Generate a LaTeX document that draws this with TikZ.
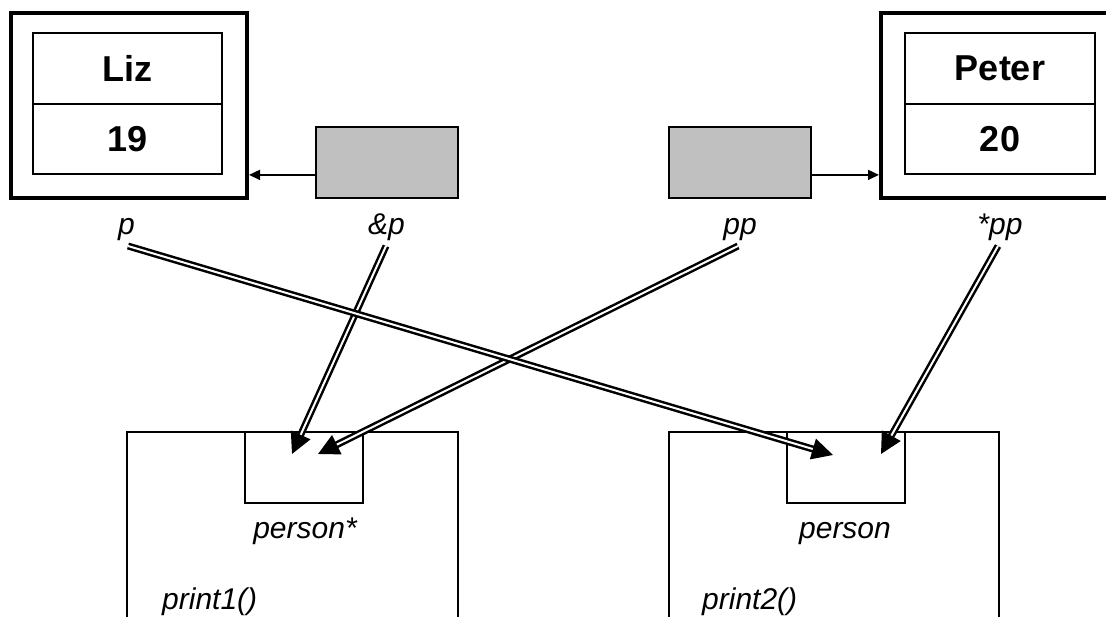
\documentclass[tikz,border=0pt]{standalone}
\usepackage{fontspec}
\setmainfont{Liberation Sans}
\usetikzlibrary{arrows.meta,calc}
\definecolor{cellgray}{HTML}{C0C0C0}
\tikzset{
  objframe/.style={draw, line width=4pt, rectangle, inner sep=0pt},
  cell/.style={draw, line width=1.5pt, rectangle, inner sep=0pt, font=\fontsize{36}{40}\selectfont\bfseries},
  ptrbox/.style={draw, line width=1.8pt, rectangle, inner sep=0pt, fill=cellgray, minimum width=142pt, minimum height=71pt},
  scopeframe/.style={draw, line width=1.5pt, rectangle, inner sep=0pt},
  slot/.style={draw, line width=1.5pt, rectangle, inner sep=0pt, minimum width=118pt, minimum height=71pt},
  lbl/.style={inner sep=0pt, anchor=base, font=\fontsize{30}{36}\selectfont\itshape},
  ptr/.style={line width=1.5pt, -{Triangle[length=11pt,width=10pt]}},
  binding/.style={double, line width=2.5pt, double distance=2pt, -{Triangle[length=21pt,width=21pt]}}
}
\begin{document}
\begin{tikzpicture}[x=1pt,y=-1pt]
\useasboundingbox (0,0) rectangle (1106,616);
\fill[white] (0,0) rectangle (1106,616);

% objects
\node[objframe, minimum width=236pt, minimum height=185pt] (liz) at (129,105.5) {};
\node[cell, minimum width=189pt, minimum height=71pt] (lizname) at (127.5,68.5) {Liz};
\node[cell, minimum width=189pt, minimum height=70pt] (lizage) at (127.5,139) {19};

\node[objframe, minimum width=236pt, minimum height=185pt] (peter) at (999,105.5) {};
\node[cell, minimum width=190pt, minimum height=71pt] (petername) at (1000,68.5) {Peter};
\node[cell, minimum width=190pt, minimum height=70pt] (peterage) at (1000,139) {20};

% pointer variables
\node[ptrbox] (addr) at (387,162.5) {};
\node[ptrbox] (pp) at (740,162.5) {};
\coordinate (addrout) at ($(addr.south west)+(0,-24)$);
\coordinate (ppout) at ($(pp.south east)+(0,-24)$);
\draw[ptr] (addrout) -- (addrout -| liz.east);
\draw[ptr] (ppout) -- (ppout -| peter.west);

% expression labels
\node[lbl] (lp) at (126.5,234) {p};
\node[lbl] (laddr) at (386.5,234) {\&p};
\node[lbl] (lpp) at (740,234) {pp};
\node[lbl] (lderef) at (1000,234) {*pp};

% functions and their parameters
\node[scopeframe, minimum width=331pt, minimum height=268pt] (f1) at (292.5,566) {};
\node[slot] (par1) at (304,467.5) {};
\node[lbl] at (305,538) {person*};
\node[lbl, anchor=base west] at (162,609) {print1()};

\node[scopeframe, minimum width=330pt, minimum height=268pt] (f2) at (834,566) {};
\node[slot] (par2) at (846,467.5) {};
\node[lbl] at (845,538) {person};
\node[lbl, anchor=base west] at (702,609) {print2()};

% argument bindings
\coordinate (sp) at (128,246);
\coordinate (saddr) at (386,246);
\coordinate (spp) at (738,246);
\coordinate (sderef) at (998,246);
\coordinate (tp) at (833,455);
\coordinate (taddr) at (292,454);
\coordinate (tpp) at (318,454);
\coordinate (tderef) at (881,454);

\draw[binding] (saddr) -- (taddr);
\draw[binding] (spp) -- (tpp);
\draw[binding] (sp) -- (tp);
\draw[binding] (sderef) -- (tderef);
\end{tikzpicture}
\end{document}
